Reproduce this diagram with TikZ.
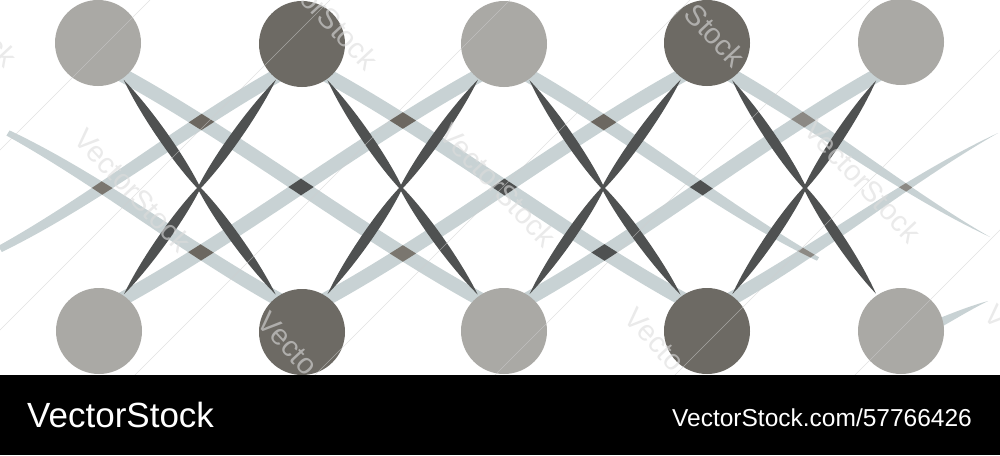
\documentclass[tikz,border=0pt]{standalone}
\usepackage{fontspec}
\setmainfont{Liberation Sans}
\usetikzlibrary{calc}
\definecolor{bandc}{HTML}{C8D2D4}
\definecolor{lightc}{HTML}{AAA9A5}
\definecolor{darkc}{HTML}{6D6A64}
\definecolor{xlinec}{HTML}{4F5151}
\definecolor{dmid}{HTML}{7A766F}
\definecolor{dbrown}{HTML}{6C6760}
\definecolor{ddark}{HTML}{4F5151}
\definecolor{dlight}{HTML}{8C8984}
\definecolor{wmline}{HTML}{CFCFCF}
\definecolor{wmtext}{HTML}{DCDCDC}

% band: #1..#8 = x0,y0,x3,y3,h0,h1,h2,h3 ; #9 = path options
\newcommand\bandpath[9]{%
  \pgfmathsetmacro\bdx{#3-#1}%
  \pgfmathsetmacro\bdy{#4-#2}%
  \pgfmathsetmacro\bL{veclen(\bdx,\bdy)}%
  \pgfmathsetmacro\bnx{-\bdy/\bL}%
  \pgfmathsetmacro\bny{\bdx/\bL}%
  \pgfmathsetmacro\bbx{#1+\bdx/3}\pgfmathsetmacro\bby{#2+0.28*\bdy}%
  \pgfmathsetmacro\bcx{#3-\bdx/3}\pgfmathsetmacro\bcy{#4-0.28*\bdy}%
  \pgfmathsetmacro\qax{#1+#5*\bnx}\pgfmathsetmacro\qay{#2+#5*\bny}%
  \pgfmathsetmacro\qbx{\bbx+#6*\bnx}\pgfmathsetmacro\qby{\bby+#6*\bny}%
  \pgfmathsetmacro\qcx{\bcx+#7*\bnx}\pgfmathsetmacro\qcy{\bcy+#7*\bny}%
  \pgfmathsetmacro\qdx{#3+#8*\bnx}\pgfmathsetmacro\qdy{#4+#8*\bny}%
  \pgfmathsetmacro\rax{#1-#5*\bnx}\pgfmathsetmacro\ray{#2-#5*\bny}%
  \pgfmathsetmacro\rbx{\bbx-#6*\bnx}\pgfmathsetmacro\rby{\bby-#6*\bny}%
  \pgfmathsetmacro\rcx{\bcx-#7*\bnx}\pgfmathsetmacro\rcy{\bcy-#7*\bny}%
  \pgfmathsetmacro\rdx{#3-#8*\bnx}\pgfmathsetmacro\rdy{#4-#8*\bny}%
  \path[#9] (\qax,\qay) .. controls (\qbx,\qby) and (\qcx,\qcy) .. (\qdx,\qdy)
    -- (\rdx,\rdy) .. controls (\rcx,\rcy) and (\rbx,\rby) .. (\rax,\ray) -- cycle;}
\newcommand\useband[2]{%
  \edef\tmpband{\noexpand\bandpath\csname bd#2\endcsname{\unexpanded{#1}}}\tmpband}
\newcommand\crossband[3]{%
  \begin{scope}\useband{clip}{#2}\useband{fill=#1}{#3}\end{scope}}

% arm of a dark X: circle centre (#1,#2), crossing centre (#3,#4)
\newcommand\xarm[4]{%
  \pgfmathsetmacro\adx{#3-#1}\pgfmathsetmacro\ady{#4-#2}%
  \pgfmathsetmacro\aL{veclen(\adx,\ady)}%
  \pgfmathsetmacro\atx{#1+45*\adx/\aL}\pgfmathsetmacro\aty{#2+45*\ady/\aL}%
  \pgfmathsetmacro\asx{#3-\atx}\pgfmathsetmacro\asy{#4-\aty}%
  \pgfmathsetmacro\anx{-\ady/\aL}\pgfmathsetmacro\any{\adx/\aL}%
  \pgfmathsetmacro\aax{\atx+0.3*\asx+6.6*\anx}\pgfmathsetmacro\aay{\aty+0.3*\asy+6.6*\any}%
  \pgfmathsetmacro\abx{\atx+0.75*\asx+6.6*\anx}\pgfmathsetmacro\aby{\aty+0.75*\asy+6.6*\any}%
  \pgfmathsetmacro\acx{\atx+0.75*\asx-6.6*\anx}\pgfmathsetmacro\acy{\aty+0.75*\asy-6.6*\any}%
  \pgfmathsetmacro\aex{\atx+0.3*\asx-6.6*\anx}\pgfmathsetmacro\aey{\aty+0.3*\asy-6.6*\any}%
  \pgfmathsetmacro\amx{#3+1.4*\anx}\pgfmathsetmacro\amy{#4+1.4*\any}%
  \pgfmathsetmacro\anxx{#3-1.4*\anx}\pgfmathsetmacro\anyy{#4-1.4*\any}%
  \fill[xlinec] (\atx,\aty) .. controls (\aax,\aay) and (\abx,\aby) .. (\amx,\amy)
    -- (\anxx,\anyy) .. controls (\acx,\acy) and (\aex,\aey) .. (\atx,\aty) -- cycle;}

% band geometry
\def\bdDa{{8}{133}{302}{312}{3}{6.5}{7}{7}}
\def\bdDb{{98}{62}{504}{312}{7}{7}{7}{7}}
\def\bdDc{{302}{62}{707}{312}{7}{7}{7}{7}}
\def\bdDd{{504}{62}{818}{259}{7}{7}{7}{2}}
\def\bdDe{{707}{62}{990}{237}{7}{7}{4.5}{0}}
\def\bdUa{{0}{249}{302}{62}{3.5}{6.5}{7}{7}}
\def\bdUb{{98}{312}{504}{62}{7}{7}{7}{7}}
\def\bdUc{{302}{312}{707}{62}{7}{7}{7}{7}}
\def\bdUd{{504}{312}{901}{62}{7}{7}{7}{7}}
\def\bdUe{{707}{312}{998}{133}{7}{7}{4.5}{0}}
\def\bdUf{{901}{340}{988}{301}{7}{5.5}{3}{0}}

\tikzset{
  circ/.style={circle, minimum size=86pt, inner sep=0pt, draw=none},
  wm/.style={rotate=-47, font=\fontsize{29}{29}\selectfont, inner sep=0pt,
    text=wmtext, text opacity=0.6},
}

\begin{document}
\begin{tikzpicture}[x=1pt, y=-1pt]
\useasboundingbox (0,0) rectangle (1000,455);
\clip (0,0) rectangle (1000,455);
\fill[white] (0,0) rectangle (1000,455);

% light bands
\foreach \b in {Da,Db,Dc,Dd,De,Ua,Ub,Uc,Ud,Ue,Uf}{\useband{fill=bandc}{\b}}

% band crossings
\crossband{dmid}{Da}{Ua}
\crossband{dbrown}{Da}{Ub}
\crossband{dbrown}{Db}{Ua}
\crossband{ddark}{Db}{Ub}
\crossband{dmid}{Db}{Uc}
\crossband{dbrown}{Dc}{Ub}
\crossband{ddark}{Dc}{Uc}
\crossband{ddark}{Dc}{Ud}
\crossband{dbrown}{Dd}{Uc}
\crossband{ddark}{Dd}{Ud}
\crossband{dlight}{Dd}{Ue}
\crossband{dlight}{De}{Ud}
\crossband{dlight}{De}{Ue}

% dark X lines
\foreach \xa/\xb/\mx in {98/302/199, 302/504/401, 504/707/603, 707/901/805}{
  \xarm{\xa}{43}{\mx}{188}
  \xarm{\xb}{43}{\mx}{188}
  \xarm{\xa}{331}{\mx}{188}
  \xarm{\xb}{331}{\mx}{188}
}

% circles
\node[circ, fill=lightc] (t1) at (98,43) {};
\node[circ, fill=darkc]  (t2) at (302,44) {};
\node[circ, fill=lightc] (t3) at (504,44) {};
\node[circ, fill=darkc]  (t4) at (707,43) {};
\node[circ, fill=lightc] (t5) at (901,42) {};
\node[circ, fill=lightc] (b1) at (99,331) {};
\node[circ, fill=darkc]  (b2) at (302,332) {};
\node[circ, fill=lightc] (b3) at (504,331) {};
\node[circ, fill=darkc]  (b4) at (707,331) {};
\node[circ, fill=lightc] (b5) at (901,331) {};

% watermark lines
\foreach \c in {150,330,...,1230}{
  \draw[wmline, opacity=0.6, line width=0.6] (\c,0) -- (\c-380,380);
}

% watermark text (only the visible parts)
\begin{scope}
\clip (0,0) rectangle (1000,375);
\node[wm, anchor=east] (w1) at (12,62) {ck};
\node[wm, anchor=east] (w2) at (373,65) {orStock};
\node[wm, anchor=east] (w3) at (740,62) {Stock};
\node[wm] (w4) at (133,190) {VectorStock};
\node[wm] (w5) at (498,185) {VectorStock};
\node[wm] (w6) at (863,181) {VectorStock};
\node[wm, anchor=west] (w7) at (263,317) {Vecto};
\node[wm, anchor=west] (w8) at (630,313) {Vecto};
\node[wm, anchor=west] (w9) at (990,310) {V};
\end{scope}

% bottom bar
\fill[black] (0,375) rectangle (1000,455);
\node[anchor=base west, text=white, font=\fontsize{35}{35}\selectfont, inner sep=0pt] (brand) at (27,427) {VectorStock};
\node[anchor=base east, text=white, font=\fontsize{24.5}{24.5}\selectfont, inner sep=0pt] (imgref) at (972,426) {VectorStock.com/57766426};
\end{tikzpicture}
\end{document}
